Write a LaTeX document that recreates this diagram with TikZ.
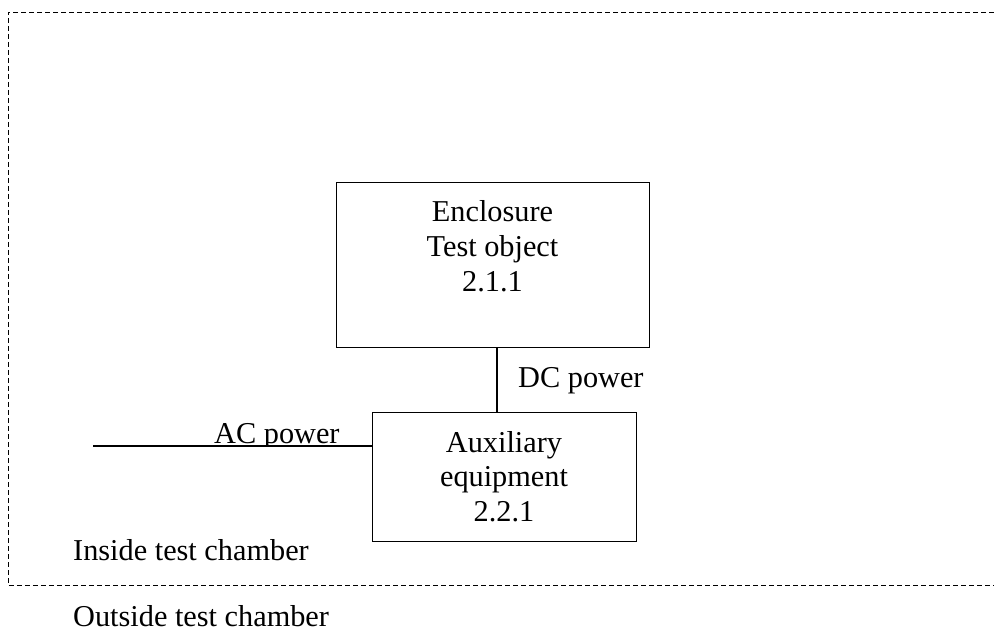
\documentclass[tikz,border=0pt]{standalone}
\usepackage{fontspec}
\setmainfont{Liberation Serif}
\begin{document}
\begin{tikzpicture}[x=1pt,y=-1pt,
  every node/.style={font=\fontsize{30.3}{34.5}\selectfont},
  box/.style={draw,line width=1.1pt,inner sep=0pt,anchor=north west},
  txt/.style={anchor=base,inner sep=0pt,align=center},
  lbl/.style={anchor=base west,inner sep=0pt},
  chamber/.style={line width=0.9pt,dash pattern=on 5pt off 3pt},
  wire/.style={line width=1.1pt}]
\useasboundingbox (0,0) rectangle (994,631);
% chamber border
\coordinate (ctr) at (994,12);
\coordinate (ctl) at (8,12);
\coordinate (cbl) at (8,585);
\coordinate (cbr) at (994,585);
\draw[chamber] (ctr) -- (ctl) -- (cbl) -- (cbr);
% boxes
\node[box,minimum width=313pt,minimum height=165pt] (b1) at (336,182) {};
\node[box,minimum width=264pt,minimum height=129pt] (b2) at (372,412) {};
% box texts
\node[txt] (t1a) at (492.5,222) {Enclosure};
\node[txt] (t1b) at (492.5,257) {Test object};
\node[txt] (t1c) at (492.5,291) {2.1.1};
\node[txt] (t2a) at (504,452) {Auxiliary};
\node[txt] (t2b) at (504,486) {equipment};
\node[txt] (t2c) at (504,521) {2.2.1};
% connectors
\coordinate (dcx) at (497,0);
\draw[wire] (b1.south -| dcx) -- (b2.north -| dcx);
\coordinate (acend) at (93,446);
\draw[wire] (acend) -- (b2.west |- acend);
% labels
\node[lbl] (dc) at (518,387) {DC power};
\begin{scope}
\clip (0,0) rectangle (994,446);
\node[lbl] (ac) at (214,443) {AC power};
\end{scope}
\node[lbl] (inside) at (73,560) {Inside test chamber};
\node[lbl] (outside) at (73,626) {Outside test chamber};
\end{tikzpicture}
\end{document}
